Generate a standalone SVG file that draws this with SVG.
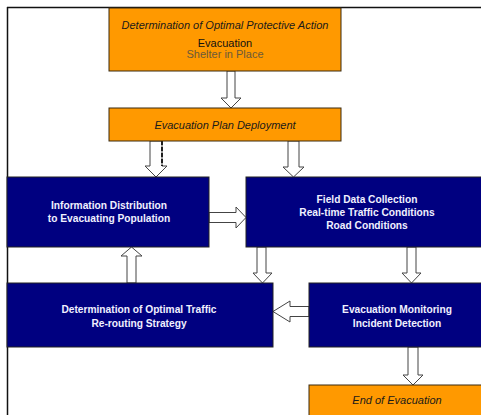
<svg xmlns="http://www.w3.org/2000/svg" width="481" height="415" viewBox="0 0 481 415">
<style>
.org{fill:#FF9900;stroke:#3a2a10;stroke-width:1}
.blu{fill:#000080;stroke:#222;stroke-width:1}
.arr{fill:#fff;stroke:#444;stroke-width:1}
text{font-family:"Liberation Sans",Arial,sans-serif;font-size:10.2px;text-anchor:middle}
.it{font-style:italic;fill:#1a1a1a;font-size:11px}
.tp{font-size:11px}
.wt{fill:#f0f0ff;font-weight:bold}
</style>
<rect width="481" height="415" fill="#fff"/>
<g id="frame" stroke="#111" stroke-width="1.5" fill="none">
<line x1="7" y1="7.5" x2="481" y2="7.5"/>
<line x1="7.5" y1="7" x2="7.5" y2="415"/>
</g>
<g id="connectors">
<path class="arr" d="M227,71 V98 H221 L231,108 L241,98 H235 V71 Z"/>
<path class="arr" d="M150,141 V166 H145 L156,177 L167,166 H162 V141 Z"/>
<line x1="162" y1="141" x2="162" y2="166" stroke="#111" stroke-width="1.8" stroke-dasharray="4,2"/>
<path class="arr" d="M288,141 V167 H283 L293.5,177 L304,167 H299 V141 Z"/>
<path class="arr" d="M209,212.5 H236 V207 L246,217.5 L236,228 V222.5 H209 Z"/>
<path class="arr" d="M127,283 V256 H121 L131.5,247 L142,256 H136 V283 Z"/>
<path class="arr" d="M257,247 V273 H253 L262.5,283 L272,273 H266 V247 Z"/>
<path class="arr" d="M407,247 V273 H402 L411.5,283 L421,273 H416 V247 Z"/>
<path class="arr" d="M309,306.5 H290 V301 L273,311.5 L290,322 V316.5 H309 Z"/>
<path class="arr" d="M408,347 V375 H403 L413,385 L423,375 H418 V347 Z"/>
</g>
<g id="n-protective">
<rect class="org" x="109" y="8" width="232" height="63"/>
<text class="it" x="225" y="29">Determination of Optimal Protective Action</text>
<text class="tp" x="225" y="47" fill="#111">Evacuation</text>
<text class="tp" x="225" y="58" fill="#6b5a3a">Shelter in Place</text>
</g>
<g id="n-deploy">
<rect class="org" x="109" y="108" width="232" height="33"/>
<text class="it" x="225" y="129">Evacuation Plan Deployment</text>
</g>
<g id="n-info">
<rect class="blu" x="7" y="177" width="202" height="70"/>
<text class="wt" x="109" y="209">Information Distribution</text>
<text class="wt" x="109" y="222">to Evacuating Population</text>
</g>
<g id="n-field">
<rect class="blu" x="246" y="177" width="240" height="70"/>
<text class="wt" x="367" y="203">Field Data Collection</text>
<text class="wt" x="367" y="216">Real-time Traffic Conditions</text>
<text class="wt" x="367" y="229">Road Conditions</text>
</g>
<g id="n-reroute">
<rect class="blu" x="7" y="283" width="266" height="64"/>
<text class="wt" x="139" y="313">Determination of Optimal Traffic</text>
<text class="wt" x="139" y="327">Re-routing Strategy</text>
</g>
<g id="n-monitor">
<rect class="blu" x="309" y="283" width="177" height="64"/>
<text class="wt" x="397" y="313">Evacuation Monitoring</text>
<text class="wt" x="397" y="327">Incident Detection</text>
</g>
<g id="n-end">
<rect class="org" x="309" y="385" width="177" height="35"/>
<text class="it" x="397" y="404">End of Evacuation</text>
</g>
</svg>
